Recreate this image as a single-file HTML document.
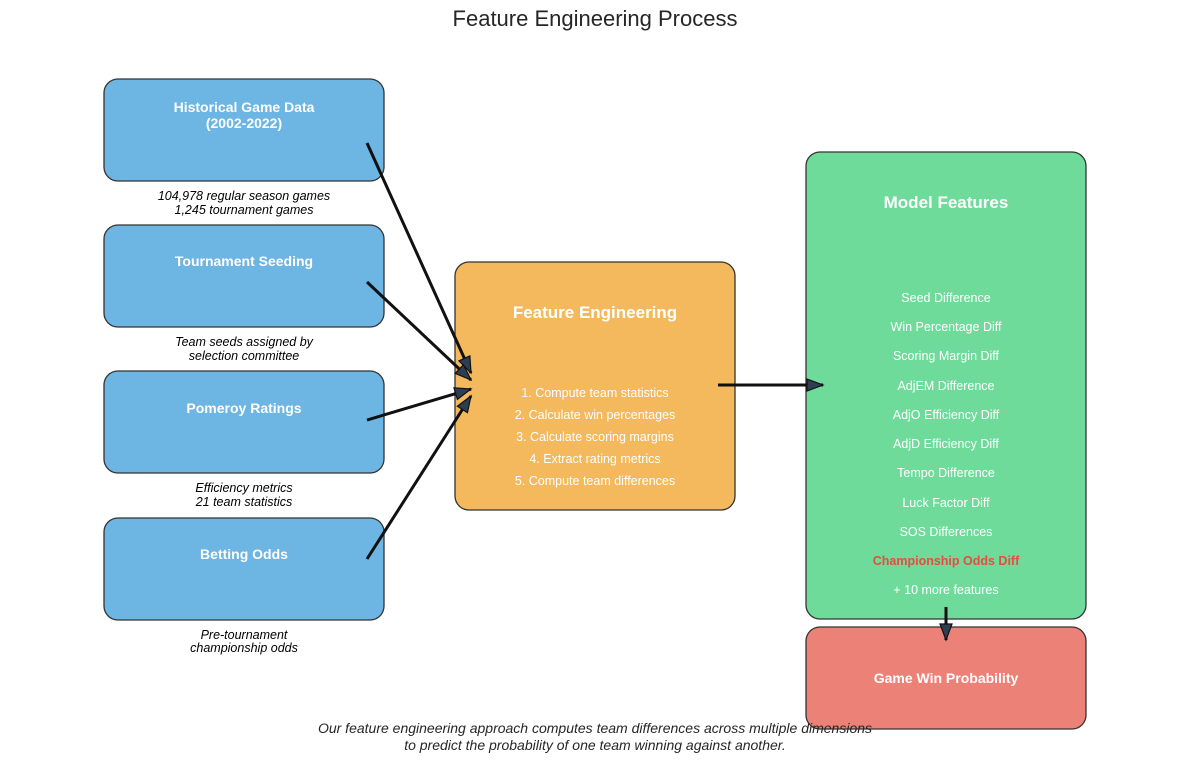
<!DOCTYPE html>
<html><head><meta charset="utf-8"><style>
html,body{margin:0;padding:0;background:#fff;}
svg{display:block;font-family:"Liberation Sans",sans-serif;}
</style></head><body>
<svg width="1189" height="762" viewBox="0 0 1189 762" xmlns="http://www.w3.org/2000/svg">
<defs>
<marker id="ah" markerUnits="userSpaceOnUse" markerWidth="20" markerHeight="14" refX="17" refY="7" orient="auto">
<path d="M1,1 L17,7 L1,13 Z" fill="#2c3e50" stroke="#111" stroke-width="1.2"/>
</marker>
</defs>
<text x="595" y="26" text-anchor="middle" font-size="22" fill="#262626">Feature Engineering Process</text>

<g stroke="#333" stroke-width="1.3">
<rect x="104" y="79" width="280" height="102" rx="14" fill="#6db5e3"/>
<rect x="104" y="225" width="280" height="102" rx="14" fill="#6db5e3"/>
<rect x="104" y="371" width="280" height="102" rx="14" fill="#6db5e3"/>
<rect x="104" y="518" width="280" height="102" rx="14" fill="#6db5e3"/>
<rect x="455" y="262" width="280" height="248" rx="14" fill="#f3b95c"/>
<rect x="806" y="152" width="280" height="467" rx="14" fill="#6edb9b"/>
<rect x="806" y="627" width="280" height="102" rx="14" fill="#ec8277"/>
</g>

<g fill="#fff" font-weight="bold" font-size="14" text-anchor="middle">
<text x="244" y="112">Historical Game Data</text>
<text x="244" y="128">(2002-2022)</text>
<text x="244" y="266">Tournament Seeding</text>
<text x="244" y="413">Pomeroy Ratings</text>
<text x="244" y="559">Betting Odds</text>
<text x="595" y="318" font-size="17">Feature Engineering</text>
<text x="946" y="208" font-size="17">Model Features</text>
<text x="946" y="683">Game Win Probability</text>
</g>

<g font-style="italic" font-size="12.5" text-anchor="middle" fill="#000">
<text x="244" y="200">104,978 regular season games</text>
<text x="244" y="214">1,245 tournament games</text>
<text x="244" y="346">Team seeds assigned by</text>
<text x="244" y="360">selection committee</text>
<text x="244" y="492">Efficiency metrics</text>
<text x="244" y="506">21 team statistics</text>
<text x="244" y="639">Pre-tournament</text>
<text x="244" y="652">championship odds</text>
</g>

<g fill="#fff" font-size="12.5" text-anchor="middle">
<text x="595" y="397">1. Compute team statistics</text>
<text x="595" y="419">2. Calculate win percentages</text>
<text x="595" y="441">3. Calculate scoring margins</text>
<text x="595" y="463">4. Extract rating metrics</text>
<text x="595" y="485">5. Compute team differences</text>
<text x="946" y="302">Seed Difference</text>
<text x="946" y="331">Win Percentage Diff</text>
<text x="946" y="360">Scoring Margin Diff</text>
<text x="946" y="390">AdjEM Difference</text>
<text x="946" y="419">AdjO Efficiency Diff</text>
<text x="946" y="448">AdjD Efficiency Diff</text>
<text x="946" y="477">Tempo Difference</text>
<text x="946" y="507">Luck Factor Diff</text>
<text x="946" y="536">SOS Differences</text>
<text x="946" y="565" fill="#e74c3c" font-weight="bold">Championship Odds Diff</text>
<text x="946" y="594">+ 10 more features</text>
</g>

<g stroke="#111" stroke-width="3" fill="none" marker-end="url(#ah)">
<line x1="367" y1="143" x2="471" y2="373"/>
<line x1="367" y1="282" x2="471" y2="380"/>
<line x1="367" y1="420" x2="471" y2="389"/>
<line x1="367" y1="559" x2="471" y2="396"/>
<line x1="718" y1="385" x2="823" y2="385"/>
<line x1="946" y1="607" x2="946" y2="640"/>
</g>

<g font-style="italic" font-size="14" text-anchor="middle" fill="#262626">
<text x="595" y="733">Our feature engineering approach computes team differences across multiple dimensions</text>
<text x="595" y="750">to predict the probability of one team winning against another.</text>
</g>
</svg>
</body></html>
